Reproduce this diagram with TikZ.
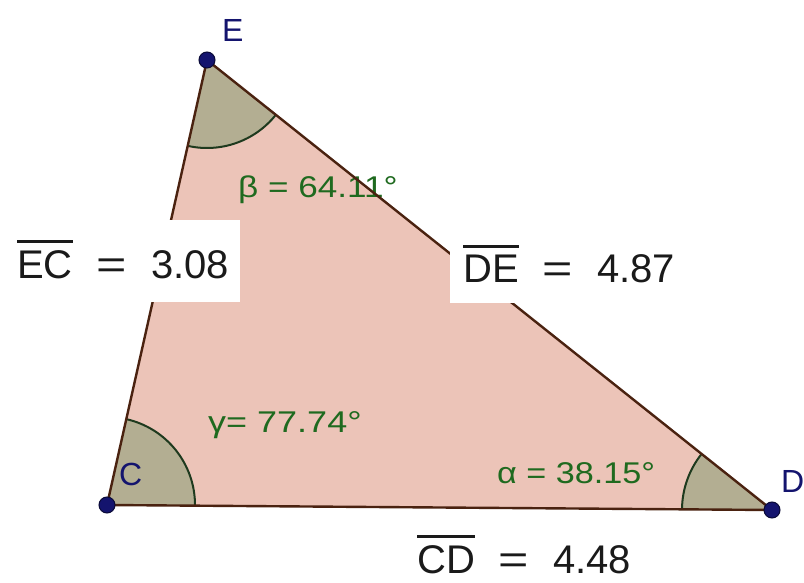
\documentclass[tikz,border=0pt]{standalone}
\usepackage{fontspec}
\setmainfont{Liberation Sans}
\usetikzlibrary{calc}
\definecolor{trifill}{HTML}{ECC4B8}
\definecolor{secfill}{HTML}{B3AE92}
\definecolor{edgecol}{HTML}{4A2210}
\definecolor{arccol}{HTML}{1E3A1E}
\definecolor{anglab}{HTML}{1F6A1F}
\definecolor{ptcol}{HTML}{14146E}
\definecolor{txtcol}{HTML}{1A1A1A}
\newcommand\myol[1]{\leavevmode\setbox0=\hbox{#1}\rlap{\rule[\dimexpr\ht0+7pt\relax]{\wd0}{3pt}}\box0}
\newcommand\myeq{\scalebox{1.3}[1]{=}}
\begin{document}
\begin{tikzpicture}[x=1pt,y=-1pt,
 edge/.style={draw=edgecol,line width=2.4pt},
 sector/.style={fill=secfill},
 arcline/.style={draw=arccol,line width=2pt},
 anglabel/.style={text=anglab,font=\fontsize{30}{30}\selectfont,anchor=base west,inner sep=0pt},
 ptlabel/.style={text=ptcol,font=\fontsize{32}{32}\selectfont,anchor=base west,inner sep=0pt},
 dot/.style={circle,fill=ptcol,draw=black!50!ptcol,line width=1pt,minimum size=16pt,inner sep=0pt},
 measure/.style={text=txtcol,font=\fontsize{40}{40}\selectfont,anchor=base west,inner sep=0pt},
 whitebox/.style={fill=white,draw=none,inner sep=0pt}]
\useasboundingbox[fill=white] (0,0) rectangle (804,583);
\coordinate (E) at (207,60);
\coordinate (C) at (107,505);
\coordinate (D) at (772,510);
% triangle fill
\fill[trifill] (E) -- (C) -- (D) -- cycle;
% angle sectors
\fill[sector] (E) -- ++(38.53:88) arc[start angle=38.53,end angle=102.67,radius=88] -- cycle;
\fill[sector] (C) -- ++(-77.33:88) arc[start angle=-77.33,end angle=0.43,radius=88] -- cycle;
\fill[sector] (D) -- ++(180.43:90) arc[start angle=180.43,end angle=218.53,radius=90] -- cycle;
\draw[arcline] ($(E)+(38.53:88)$) arc[start angle=38.53,end angle=102.67,radius=88];
\draw[arcline] ($(C)+(-77.33:88)$) arc[start angle=-77.33,end angle=0.43,radius=88];
\draw[arcline] ($(D)+(180.43:90)$) arc[start angle=180.43,end angle=218.53,radius=90];
% angle labels
\node[anglabel] (beta) at (238,197) {\scalebox{1.17}[1]{β = 64.11°}};
\node[anglabel] (gamma) at (208,432) {\scalebox{1.2}[1]{γ= 77.74°}};
\node[anglabel] (alpha) at (497,483) {\scalebox{1.14}[1]{α = 38.15°}};
% edges
\draw[edge] (E) -- (C);
\draw[edge] (C) -- (D);
\draw[edge] (D) -- (E);
% measure boxes and labels
\node[whitebox,minimum width=240pt,minimum height=82pt] (ECbox) at (120,261) {};
\node[whitebox,minimum width=240pt,minimum height=63pt] (DEbox) at (570,271.5) {};
\node[measure] (EClab) at (17,278) {\myol{EC}\hspace{24pt}\myeq\hspace{24pt}3.08};
\node[measure] (DElab) at (463,283) {\myol{DE}\hspace{24pt}\myeq\hspace{24pt}4.87};
\node[measure] (CDlab) at (417,573) {\myol{CD}\hspace{24pt}\myeq\hspace{24pt}4.48};
% points
\node[dot] (Edot) at (E) {};
\node[dot] (Cdot) at (C) {};
\node[dot] (Ddot) at (D) {};
\node[ptlabel] (Elab) at (222,42) {E};
\node[ptlabel] (Clab) at (119,485) {C};
\node[ptlabel] (Dlab) at (781,492) {D};
\end{tikzpicture}
\end{document}
